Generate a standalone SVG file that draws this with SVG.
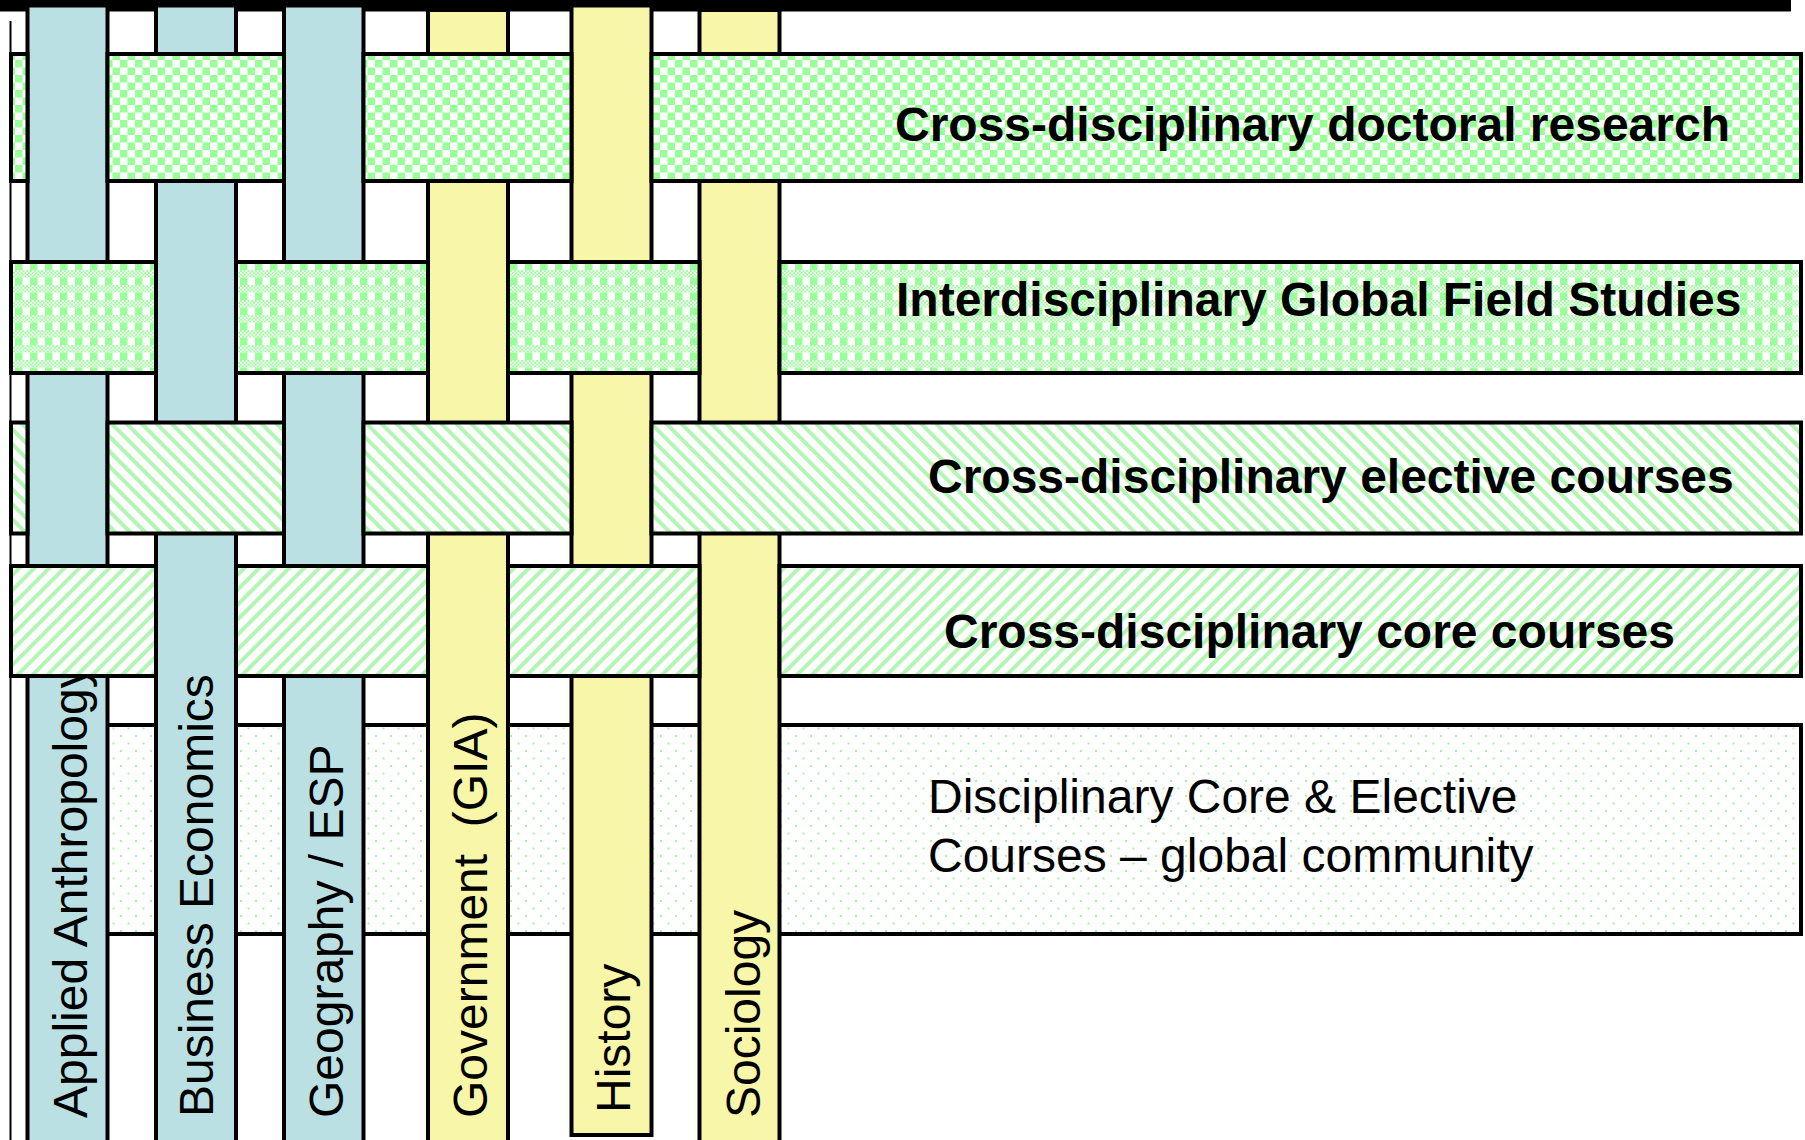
<svg xmlns="http://www.w3.org/2000/svg" width="1805" height="1140" viewBox="0 0 1805 1140">
<defs>
<pattern id="pChecker" patternUnits="userSpaceOnUse" width="15" height="15">
<rect width="15" height="15" fill="#ffffff"/>
<rect x="0" y="0" width="7.5" height="7.5" fill="#99FF99"/>
<rect x="7.5" y="7.5" width="7.5" height="7.5" fill="#99FF99"/>
</pattern>
<pattern id="pFine" patternUnits="userSpaceOnUse" width="3.75" height="3.75">
<rect width="3.75" height="3.75" fill="#ffffff"/>
<rect x="0" y="0" width="1.875" height="1.875" fill="#99FF99"/>
<rect x="1.875" y="1.875" width="1.875" height="1.875" fill="#99FF99"/>
</pattern>
<pattern id="pPlaid" patternUnits="userSpaceOnUse" width="15" height="15">
<rect width="15" height="15" fill="#ffffff"/>
<rect x="0" y="0" width="15" height="7.5" fill="url(#pFine)"/>
<rect x="0" y="7.5" width="7.5" height="7.5" fill="#99FF99"/>
</pattern>
<pattern id="pDown" patternUnits="userSpaceOnUse" width="10.6" height="10.6" patternTransform="rotate(-45)">
<rect width="10.6" height="10.6" fill="#ffffff"/>
<rect x="0" y="0" width="4" height="10.6" fill="#B3F5B3"/>
</pattern>
<pattern id="pUp" patternUnits="userSpaceOnUse" width="10.6" height="10.6" patternTransform="rotate(45)">
<rect width="10.6" height="10.6" fill="#ffffff"/>
<rect x="0" y="0" width="4" height="10.6" fill="#B3F5B3"/>
</pattern>
<pattern id="pDots" patternUnits="userSpaceOnUse" width="15" height="15">
<rect width="15" height="15" fill="#ffffff"/>
<rect x="0" y="0" width="2" height="2" fill="#A8F2A8"/>
<rect x="7.5" y="7.5" width="2" height="2" fill="#A8F2A8"/>
</pattern>
</defs>
<style>
.col{stroke:#000;stroke-width:4}
.blue{fill:#BBE0E3}
.yel{fill:#F8F6A8}
.band{stroke:#000;stroke-width:4}
.clab{font-family:"Liberation Sans",Arial,sans-serif;font-size:48px;fill:#000}
.blab{font-family:"Liberation Sans",Arial,sans-serif;font-size:48px;font-weight:bold;fill:#000}
.dlab{font-family:"Liberation Sans",Arial,sans-serif;font-size:48px;fill:#000}
</style>
<rect x="0" y="0" width="1805" height="1140" fill="#ffffff"/>
<rect x="0" y="0" width="1791" height="11.5" fill="#000"/>
<line x1="10.5" y1="21" x2="10.5" y2="1140" stroke="#000" stroke-width="2"/>

<g id="disciplinary">
<rect class="band" x="60" y="725" width="1741" height="209" fill="url(#pDots)"/>
<text class="dlab" x="928" y="813">Disciplinary Core &amp; Elective</text>
<text class="dlab" x="928" y="872">Courses – global community</text>
</g>

<g id="col-anthropology">
<rect class="col blue" x="27.5" y="5.5" width="80" height="1150"/>
<text class="clab" transform="translate(87,1118) rotate(-90)">Applied Anthropology</text>
</g>
<g id="col-business">
<rect class="col blue" x="156" y="5.5" width="80" height="1150"/>
<text class="clab" transform="translate(213,1117) rotate(-90)">Business Economics</text>
</g>
<g id="col-geography">
<rect class="col blue" x="284" y="5.5" width="79.5" height="1150"/>
<text class="clab" transform="translate(343,1118) rotate(-90)">Geography / ESP</text>
</g>
<g id="col-government">
<rect class="col yel" x="428" y="10" width="80" height="1150"/>
<text class="clab" xml:space="preserve" transform="translate(487,1118) rotate(-90)">Government  (GIA)</text>
</g>
<g id="col-history">
<rect class="col yel" x="571.5" y="5.5" width="80" height="1129.5"/>
<text class="clab" transform="translate(630,1113) rotate(-90)">History</text>
</g>
<g id="col-sociology">
<rect class="col yel" x="699.5" y="10" width="80" height="1150"/>
<text class="clab" transform="translate(760,1118) rotate(-90)">Sociology</text>
</g>

<g id="doctoral-research">
<rect class="band" x="11" y="54" width="16.5" height="127" fill="url(#pChecker)"/>
<rect class="band" x="107.5" y="54" width="176.5" height="127" fill="url(#pChecker)"/>
<rect class="band" x="363.5" y="54" width="208" height="127" fill="url(#pChecker)"/>
<rect class="band" x="651.5" y="54" width="1149.5" height="127" fill="url(#pChecker)"/>
<text class="blab" x="895" y="141">Cross-disciplinary doctoral research</text>
</g>

<g id="field-studies">
<rect class="band" x="11" y="262" width="145" height="111" fill="url(#pPlaid)"/>
<rect class="band" x="236" y="262" width="192" height="111" fill="url(#pPlaid)"/>
<rect class="band" x="508" y="262" width="191.5" height="111" fill="url(#pPlaid)"/>
<rect class="band" x="779.5" y="262" width="1021.5" height="111" fill="url(#pPlaid)"/>
<text class="blab" x="896" y="316">Interdisciplinary Global Field Studies</text>
</g>

<g id="elective-courses">
<rect class="band" x="11" y="422.5" width="16.5" height="111" fill="url(#pDown)"/>
<rect class="band" x="107.5" y="422.5" width="176.5" height="111" fill="url(#pDown)"/>
<rect class="band" x="363.5" y="422.5" width="208" height="111" fill="url(#pDown)"/>
<rect class="band" x="651.5" y="422.5" width="1149.5" height="111" fill="url(#pDown)"/>
<text class="blab" x="928" y="493">Cross-disciplinary elective courses</text>
</g>

<g id="core-courses">
<rect class="band" x="11" y="566" width="145" height="110" fill="url(#pUp)"/>
<rect class="band" x="236" y="566" width="192" height="110" fill="url(#pUp)"/>
<rect class="band" x="508" y="566" width="191.5" height="110" fill="url(#pUp)"/>
<rect class="band" x="779.5" y="566" width="1021.5" height="110" fill="url(#pUp)"/>
<text class="blab" x="944" y="648">Cross-disciplinary core courses</text>
</g>

<g id="connectors"/>
</svg>
